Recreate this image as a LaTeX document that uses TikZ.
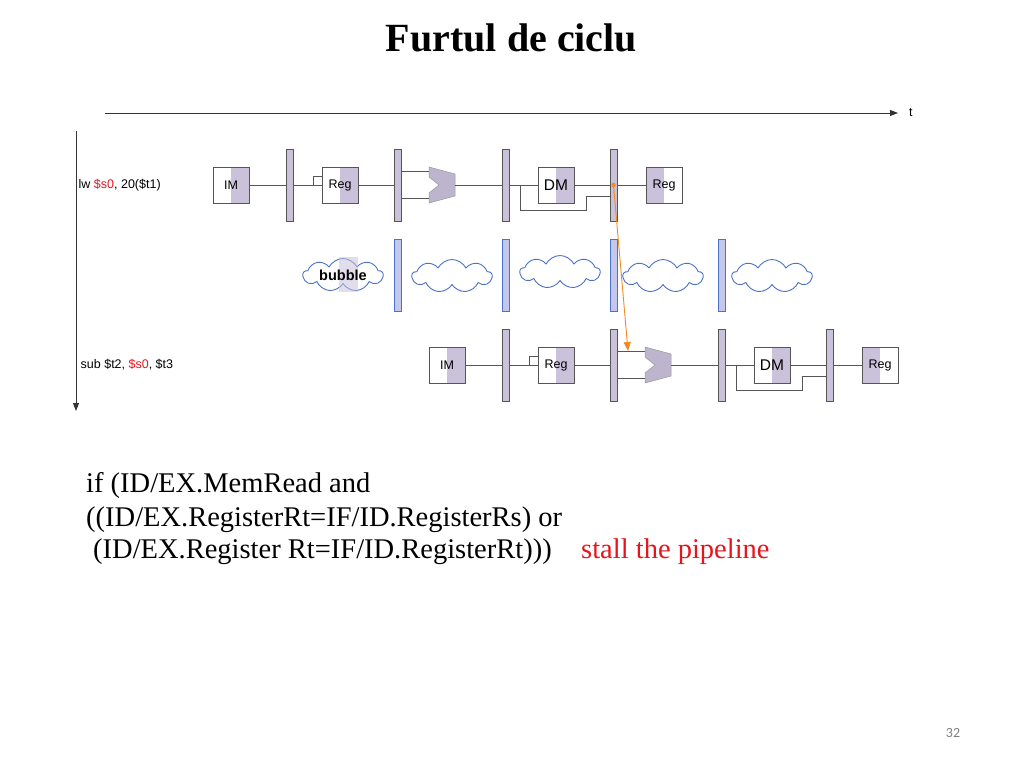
\documentclass[tikz,border=0pt]{standalone}
\usepackage{fontspec}
\setmainfont{Liberation Serif}
\newfontfamily\arialf{Liberation Sans}
\newfontfamily\calibf{Carlito}
\usetikzlibrary{arrows.meta,shapes.symbols,calc}
\definecolor{lav}{HTML}{CAC2DA}
\definecolor{alufill}{HTML}{BDB5CE}
\definecolor{wiregray}{HTML}{555555}
\definecolor{bblue}{HTML}{4A72C8}
\definecolor{blav}{HTML}{C4C6EA}
\definecolor{org}{HTML}{F08A24}
\definecolor{sred}{HTML}{E8141C}
\definecolor{pgray}{HTML}{7F7F7F}
\tikzset{
  wire/.style={draw=wiregray, line width=0.8pt},
  unitbase/.style={rectangle, draw=wiregray, line width=0.8pt, fill=white,
     minimum width=36pt, minimum height=36pt, inner sep=0pt, font=\arialf\fontsize{12.5}{14}\selectfont},
  unitR/.style={unitbase, path picture={\fill[lav] (path picture bounding box.north) rectangle (path picture bounding box.south east);}},
  unitL/.style={unitbase, path picture={\fill[lav] (path picture bounding box.north) rectangle (path picture bounding box.south west);}},
  preg/.style={rectangle, draw=wiregray, line width=0.8pt, fill=lav, minimum width=7pt, minimum height=72pt, inner sep=0pt},
  breg/.style={rectangle, draw=bblue, line width=1pt, fill=blav, minimum width=7pt, minimum height=72pt, inner sep=0pt},
  cloudy/.style={cloud, cloud puffs=9, cloud puff arc=125, cloud ignores aspect, draw=bblue, line width=0.9pt, fill=white,
     minimum width=80pt, minimum height=33pt, inner sep=0pt},
  axis/.style={draw=black!80, line width=0.9pt, -{Triangle[length=8pt,width=6pt]}},
  lbl/.style={anchor=west, inner sep=0pt, font=\arialf\fontsize{12.5}{14}\selectfont},
  body/.style={anchor=base west, inner sep=0pt, font=\fontsize{28.5}{32}\selectfont}
}
\newcommand\piperow[1]{%
  \node[unitR] (#1im) at (231,185) {IM};
  \node[preg] (#1pa) at (289.5,185) {};
  \node[unitR] (#1rf) at (340,185) {Reg};
  \node[preg] (#1pb) at (397.5,185) {};
  \node[preg] (#1pc) at (505.5,185) {};
  \node[unitR, font=\arialf\fontsize{15.5}{17}\selectfont] (#1dm) at (556,185) {DM};
  \node[preg] (#1pd) at (613.5,185) {};
  \node[unitL] (#1wb) at (664,185) {Reg};
  \coordinate (#1aluA) at (429,171);
  \coordinate (#1aluB) at (429,198);
  \coordinate (#1aluO) at (455,185);
  \coordinate (#1hook) at (313,176);
  \coordinate (#1fb) at (520,185);
  \coordinate (#1fbc) at (586,210);
  \coordinate (#1fbe) at (610,196);
  \coordinate (#1tap) at (412,171);
  \fill[alufill, draw=wiregray!60, line width=0.5pt] (429,167) -- (455,174) -- (455,196) -- (429,203) -- (429,193) -- (439,185) -- (429,177) -- cycle;
  \draw[wire] (#1im) -- (#1pa);
  \draw[wire] (#1pa) -- (#1rf);
  \draw[wire] (#1hook |- #1rf) |- (#1rf.west |- #1hook);
  \draw[wire] (#1rf) -- (#1pb);
  \draw[wire] (#1pb.east |- #1aluA) -- (#1aluA);
  \draw[wire] (#1pb.east |- #1aluB) -- (#1aluB);
  \draw[wire] (#1aluO) -- (#1pc);
  \draw[wire] (#1pc) -- (#1dm);
  \draw[wire] (#1dm) -- (#1pd);
  \draw[wire] (#1fb) |- (#1fbc) |- (#1fbe);
  \draw[wire] (#1pd) -- (#1wb);
}
\begin{document}
\begin{tikzpicture}[x=1pt,y=-1pt]
\useasboundingbox (0,0) rectangle (1024,768);
\fill[white] (0,0) rectangle (1024,768);

% title
\node[anchor=base, inner sep=0pt, font=\bfseries\fontsize{40}{44}\selectfont] (title) at (511.5,52) {Furtul de ciclu};

% time axes
\coordinate (tx0) at (105,113);
\coordinate (tx1) at (898,113);
\draw[axis] (tx0) -- (tx1);
\node[anchor=west, inner sep=0pt, font=\arialf\fontsize{12.5}{14}\selectfont] (tlabel) at (909,113) {t};
\coordinate (ty0) at (76,131);
\coordinate (ty1) at (76,411);
\draw[axis] (ty0) -- (ty1);

% instruction labels
\node[lbl] (lw) at (78.5,185) {lw \textcolor{sred}{\$s0}, 20(\$t1)};
\node[lbl] (sub) at (80.5,365) {sub \$t2, \textcolor{sred}{\$s0}, \$t3};

% top row
\begin{scope}
\piperow{t}
\end{scope}
% bottom row
\begin{scope}[shift={(216,180)}]
\piperow{b}
\end{scope}

% bubble row
\node[breg] (m1) at (397.5,275) {};
\node[breg] (m2) at (505.5,275) {};
\node[breg] (m3) at (613.5,275) {};
\node[breg] (m4) at (721.5,275) {};
\node[cloudy] (c1) at (343,275) {};
\fill[lav, opacity=0.55] (339,257) rectangle (358,292);
\node[inner sep=0pt, font=\arialf\bfseries\fontsize{14.5}{16}\selectfont] (bubtxt) at (343,275) {bubble};
\node[cloudy] (c2) at (452,276) {};
\node[cloudy] (c3) at (560,272) {};
\node[cloudy] (c4) at (663,276) {};
\node[cloudy] (c5) at (772,276) {};

% forwarding arrow
\fill[org] (tpd.center) circle (2.2);
\draw[org, line width=0.9pt, -{Triangle[length=9pt,width=7pt]}] (tpd.center) -- (btap);

% condition text
\node[body] (l1) at (86,492) {if (ID/EX.MemRead and};
\node[body] (l2) at (86,526.5) {((ID/EX.RegisterRt=IF/ID.RegisterRs) or};
\node[body] (l3) at (93,558) {(ID/EX.Register Rt=IF/ID.RegisterRt)))};
\node[body, text=sred] (stall) at (581,558) {stall the pipeline};

% page number
\node[inner sep=0pt, text=pgray, font=\calibf\fontsize{14}{16}\selectfont] (pnum) at (953,733) {32};
\end{tikzpicture}
\end{document}
